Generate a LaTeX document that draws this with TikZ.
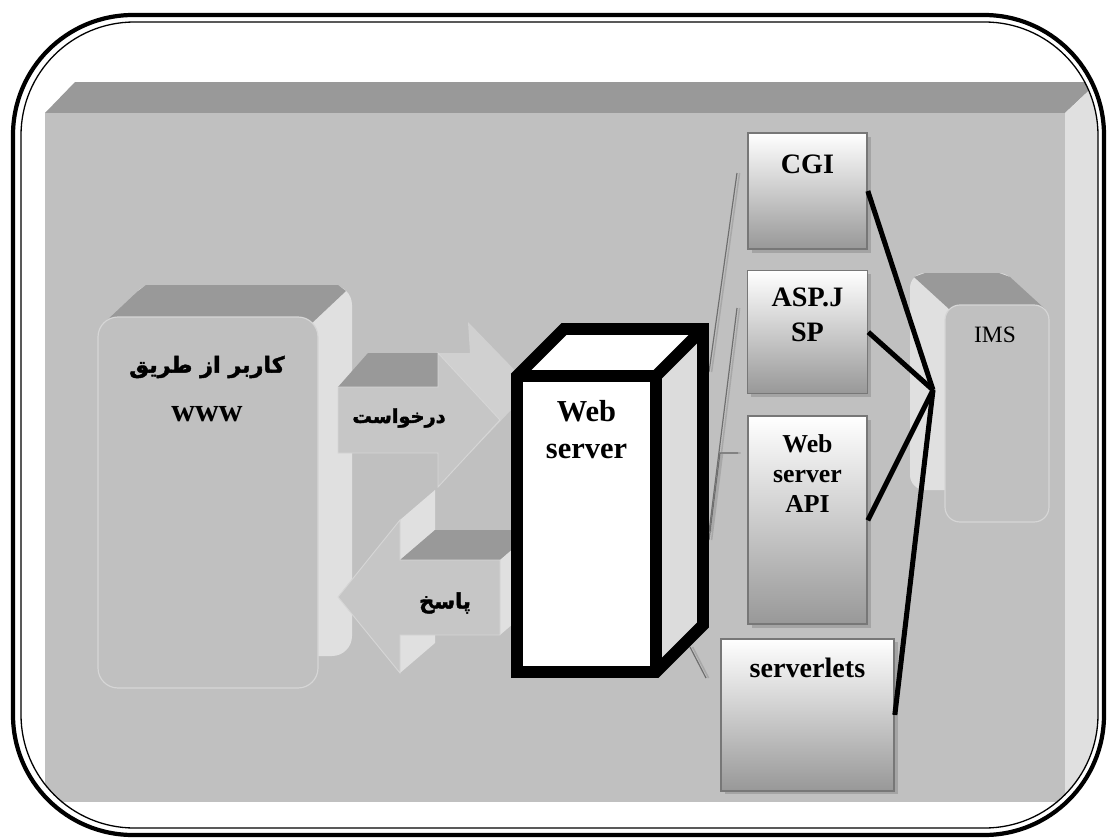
\documentclass[tikz,border=0pt]{standalone}
\usepackage{fontspec}
\setmainfont{Liberation Serif}
\newfontfamily\fafont[Script=Arabic, FakeBold=2]{DejaVu Sans Bold}
\TeXXeTstate=1
\usepackage{tikz}
\usetikzlibrary{positioning}
\usetikzlibrary{shadows}

\definecolor{panelgray}{HTML}{C0C0C0}
\definecolor{beveldark}{HTML}{999999}
\definecolor{sidelight}{HTML}{E0E0E0}
\definecolor{arrowback}{HTML}{D0D0D0}
\definecolor{arrowfront}{HTML}{C6C6C6}
\definecolor{rimlight}{HTML}{D6D6D6}
\definecolor{boxedge}{HTML}{777777}
\definecolor{boxlow}{HTML}{989898}
\definecolor{shadowgray}{HTML}{A4A4A4}
\definecolor{srvside}{HTML}{DCDCDC}
\definecolor{wiredark}{HTML}{6E6E6E}
\definecolor{wirelight}{HTML}{A8A8A8}

\begin{document}
\begin{tikzpicture}[x=0.03cm, y=-0.03cm,
  srvline/.style={draw=black, line width=10pt, line join=miter},
  srvfront/.style={fill=white, outer sep=0pt, inner sep=0pt},
  srvtext/.style={font=\bfseries\fontsize{26}{31.6}\selectfont, align=center, inner sep=0pt},
  modbox/.style={draw=boxedge, line width=1.4pt, top color=white, bottom color=boxlow,
    drop shadow={shadow xshift=3pt, shadow yshift=-3pt, fill=shadowgray, opacity=1}},
  modtext/.style={font=\bfseries\fontsize{24}{30}\selectfont, align=center, inner sep=0pt},
  apitext/.style={font=\bfseries\fontsize{22}{25.6}\selectfont, align=center, inner sep=0pt},
  fatext/.style={font=\fafont\fontsize{18}{22}\selectfont, inner sep=0pt},
  wwwtext/.style={font=\bfseries\fontsize{28}{32}\selectfont, inner sep=0pt},
  imstext/.style={font=\fontsize{20}{24}\selectfont, inner sep=0pt},
  wire/.style={draw=wiredark, line width=1pt},
  wireshade/.style={draw=wirelight, line width=1.3pt, transform canvas={xshift=2.2pt}},
  link/.style={draw=black, line width=4.3pt}]
\useasboundingbox (0,0) rectangle (1107,840);

% slab behind everything
\begin{scope}
\clip[rounded corners=3.4cm] (21,22) rectangle (1098,828);
\fill[beveldark] (45,113) -- (75,82) -- (1098,82) -- (1065,113) -- cycle;
\fill[sidelight] (1065,113) -- (1098,82) -- (1098,802) -- (1065,802) -- cycle;
\fill[panelgray] (45,113) rectangle (1065,802);
\end{scope}

% double frame
\draw[line width=3.6pt, rounded corners=3.6cm] (13,15) rectangle (1104,835);
\draw[line width=1.1pt, rounded corners=3.4cm] (21,22) rectangle (1098,828);

% user block
\fill[sidelight, rounded corners=0.6cm] (132,285) rectangle (352,656);
\fill[beveldark] (104,323) -- (138,291) -- (146,285) -- (338,285) -- (346,291) -- (312,323) -- cycle;
\filldraw[fill=panelgray, draw=rimlight, line width=1pt, rounded corners=0.6cm] (98,317) rectangle (318,688);
\node[fatext, font=\fafont\fontsize{19}{22}\selectfont] (usertxt) at (207,367) {\beginR کاربر از طریق\endR};
\node[wwwtext] (userwww) at (207,414) {www};

% request arrow
\fill[arrowback] (370,353) -- (470,353) -- (468,322) -- (532,388) -- (470,453) -- (470,421) -- (370,421) -- cycle;
\fill[beveldark] (338,387) -- (368,353) -- (438,353) -- (438,387) -- cycle;
\filldraw[fill=arrowfront, draw=rimlight, line width=0.8pt] (338,387) -- (438,387) -- (438,353) -- (500,420) -- (438,487) -- (438,453) -- (338,453) -- cycle;
\node[fatext, font=\fafont\fontsize{16.5}{20}\selectfont] (reqlbl) at (399,418) {\beginR درخواست\endR};

% response arrow
\fill[arrowfront] (338,597) -- (400,520) -- (435,490) -- (373,567) -- cycle;
\fill[sidelight] (400,520) -- (435,490) -- (435,530) -- (400,560) -- cycle;
\fill[sidelight] (400,635) -- (435,605) -- (435,643) -- (400,673) -- cycle;
\fill[beveldark] (400,560) -- (435,530) -- (535,530) -- (500,560) -- cycle;
\fill[sidelight] (500,560) -- (535,530) -- (535,605) -- (500,635) -- cycle;
\filldraw[fill=arrowfront, draw=rimlight, line width=0.8pt] (338,597) -- (400,520) -- (400,560) -- (500,560) -- (500,635) -- (400,635) -- (400,673) -- cycle;
\node[fatext] (resplbl) at (445,603) {\beginR پاسخ\endR};

% thin wires from the server
\coordinate (wa1) at (737,173);
\coordinate (wa2) at (709,372);
\coordinate (wb1) at (737,308);
\coordinate (wb2) at (709,532);
\coordinate (wc1) at (738,453);
\coordinate (wc2) at (720,453);
\coordinate (wc3) at (709,540);
\coordinate (wd1) at (690,647);
\coordinate (wd2) at (706,678);
\draw[wireshade] (wa1) -- (wa2);
\draw[wireshade] (wb1) -- (wb2);
\draw[wireshade] (wc1) -- (wc2) -- (wc3);
\draw[wireshade] (wd1) -- (wd2);
\draw[wire] (wa1) -- (wa2);
\draw[wire] (wb1) -- (wb2);
\draw[wire] (wc1) -- (wc2) -- (wc3);
\draw[wire] (wd1) -- (wd2);

% web server
\node[srvfront, minimum width=4.17cm, minimum height=8.88cm] (srv) at (586.5,524) {};
\fill[white] (srv.north west) -- ++(47,-47) -- ++(139,0) -- (srv.north east) -- cycle;
\fill[srvside] (srv.north east) -- ++(47,-47) -- ++(0,296) -- (srv.south east) -- cycle;
\draw[srvline] (srv.south west) -- (srv.north west) -- ++(47,-47) -- ++(139,0) -- ++(0,296) -- (srv.south east) -- cycle;
\draw[srvline] (srv.north west) -- (srv.north east) -- (srv.south east);
\draw[srvline] (srv.north east) -- ++(47,-47);
\node[srvtext, below=0.72cm of srv.north] (srvlbl) {Web\\server};

% modules
\node[modbox, minimum width=3.57cm, minimum height=3.48cm] (cgi) at (807.5,191) {};
\node[modbox, minimum width=3.6cm, minimum height=3.69cm, below=0.6cm of cgi] (asp) {};
\node[modbox, minimum width=3.57cm, minimum height=6.24cm, below=0.63cm of asp] (api) {};
\node[modbox, minimum width=5.19cm, minimum height=4.56cm, below=0.39cm of api] (slets) {};
\node[modtext, below=0.66cm of cgi.north] (cgilbl) {CGI};
\node[modtext, below=0.54cm of asp.north] (asplbl) {ASP.J\\SP};
\node[apitext, below=0.57cm of api.north] (apilbl) {Web\\server\\API};
\node[modtext, below=0.6cm of slets.north] (sletslbl) {serverlets};

% IMS block
\fill[sidelight, rounded corners=0.45cm] (910,273) rectangle (1014,490);
\fill[beveldark] (949,309) -- (914,277) -- (925,273) -- (999,273) -- (1010,277) -- (1045,309) -- cycle;
\filldraw[fill=panelgray, draw=rimlight, line width=1pt, rounded corners=0.45cm] (945,305) rectangle (1049,522);
\node[imstext] (ims) at (995,335) {IMS};

% links to IMS
\coordinate (hub) at (933,390);
\draw[link] (cgi.east) -- (hub);
\draw[link] (asp.east) -- (hub);
\draw[link] (api.east) -- (hub);
\draw[link] (slets.east) -- (hub);
\end{tikzpicture}
\end{document}
